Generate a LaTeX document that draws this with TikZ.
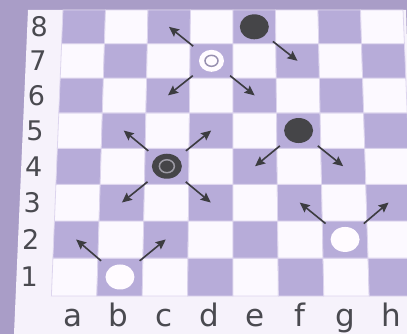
\documentclass[tikz,border=0pt]{standalone}
\usepackage{fontspec}
\setmainfont{DejaVu Sans}
\usetikzlibrary{shapes.geometric, arrows.meta, calc}

\definecolor{bgpurple}{HTML}{A99DC7}
\definecolor{panel}{HTML}{F6F2FB}
\definecolor{darksq}{HTML}{B7ACD9}
\definecolor{lightsq}{HTML}{FCF9FF}
\definecolor{gridline}{HTML}{DDD5EE}
\definecolor{pieceblack}{HTML}{454548}
\definecolor{piecewhite}{HTML}{FFFBFF}
\definecolor{ringgray}{HTML}{9C9AA4}
\definecolor{ringlav}{HTML}{9890B0}
\definecolor{labelgray}{HTML}{4A4A50}
\definecolor{arrowgray}{HTML}{3C3C40}

\begin{document}
\begin{tikzpicture}[x=1pt, y=-1pt,
  % Board geometry (slight perspective)
  declare function={bx(\u,\v)=233+(\u-4)*45.4/(1+0.0085*\v);
                    by(\v)=296-38.18*\v/(1+0.0085*\v);},
  % Node styles
  piece/.style={ellipse, inner sep=0pt, minimum width=29pt, minimum height=25pt},
  blackpiece/.style={piece, fill=pieceblack},
  whitepiece/.style={piece, fill=piecewhite},
  ring/.style={line width=1.5pt},
  rank/.style={font=\fontsize{27}{27}\selectfont, text=labelgray, inner sep=0pt},
  file/.style={font=\fontsize{31}{31}\selectfont, text=labelgray, inner sep=0pt, anchor=base},
  % Arrow styles
  mv/.style={-{Stealth[length=10pt, width=9pt, inset=1.5pt]}, line width=1.6pt, draw=arrowgray},
]

  \useasboundingbox (0,0) rectangle (407,334);
  \fill[bgpurple] (0,0) rectangle (407,334);

  % ── Panel ──
  \fill[panel] (28,10) -- (406,10) -- (416,334) -- (14,334) -- cycle;

  % ── Squares ──
  \foreach \i in {0,...,7}
    \foreach \j in {0,...,7} {
      \pgfmathtruncatemacro\sqodd{mod(\i+\j,2)}
      \ifnum\sqodd=1 \colorlet{sq}{darksq}\else\colorlet{sq}{lightsq}\fi
      \filldraw[fill=sq, draw=gridline, line width=0.8pt]
        ({bx(\i,\j)},{by(\j)}) -- ({bx(\i+1,\j)},{by(\j)})
        -- ({bx(\i+1,\j+1)},{by(\j+1)}) -- ({bx(\i,\j+1)},{by(\j+1)}) -- cycle;
    }

  % ── Square centres ──
  \foreach \f [count=\i from 0] in {a,...,h}
    \foreach \r in {1,...,8}
      \coordinate (\f\r) at ({bx(\i+0.5,\r-0.5)},{by(\r-0.5)});

  % ── Labels ──
  \foreach \r in {1,...,8}
    \node[rank] (rank\r) at ({bx(0,\r-0.5)-23},{by(\r-0.5)}) {\r};
  \foreach \f [count=\i from 0] in {a,...,h}
    \node[file] (file\f) at ({bx(\i+0.5,0)-1},326) {\f};

  % ── Pieces ──
  \node[blackpiece] (pe8) at (e8) {};
  \node[blackpiece] (pf5) at (f5) {};
  \node[blackpiece, minimum width=30pt] (pc4) at (c4) {};
  \draw[ring, draw=ringgray] (pc4.center) ellipse (7.5 and 6.5);
  \node[whitepiece, minimum width=25pt, minimum height=22pt] (pd7) at (d7) {};
  \draw[ring, draw=ringlav] (pd7.center) ellipse (6.5 and 5.5);
  \node[whitepiece] (pg2) at (g2) {};
  \node[whitepiece] (pb1) at (b1) {};

  % ── Moves ──
  \draw[mv] ($(pd7.center)!0.43!(c8)$) -- (c8);
  \draw[mv] ($(pd7.center)!0.43!(c6)$) -- (c6);
  \draw[mv] ($(pd7.center)!0.43!(e6)$) -- (e6);
  \draw[mv] ($(pe8.center)!0.43!(f7)$) -- (f7);
  \draw[mv] ($(pc4.center)!0.43!(b5)$) -- (b5);
  \draw[mv] ($(pc4.center)!0.43!(d5)$) -- (d5);
  \draw[mv] ($(pc4.center)!0.43!(b3)$) -- (b3);
  \draw[mv] ($(pc4.center)!0.43!(d3)$) -- (d3);
  \draw[mv] ($(pf5.center)!0.43!(e4)$) -- (e4);
  \draw[mv] ($(pf5.center)!0.43!(g4)$) -- (g4);
  \draw[mv] ($(pg2.center)!0.43!(f3)$) -- (f3);
  \draw[mv] ($(pg2.center)!0.43!(h3)$) -- (h3);
  \draw[mv] ($(pb1.center)!0.43!(a2)$) -- (a2);
  \draw[mv] ($(pb1.center)!0.43!(c2)$) -- (c2);

\end{tikzpicture}
\end{document}
